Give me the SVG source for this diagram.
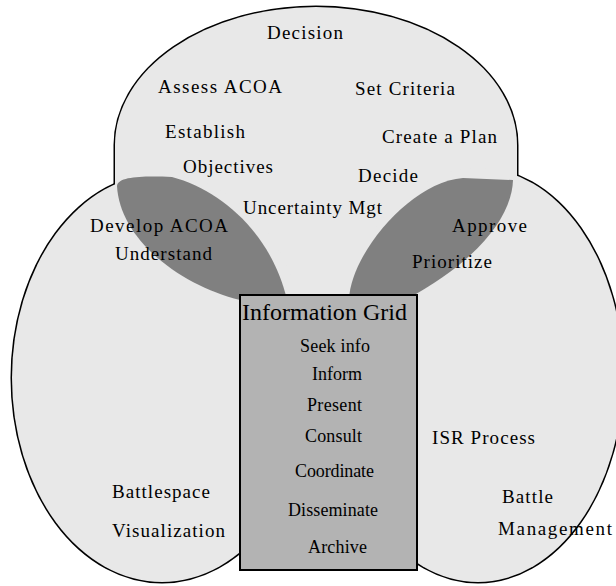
<svg xmlns="http://www.w3.org/2000/svg" width="616" height="586" viewBox="0 0 616 586">
  <style>
    .edge { fill: none; stroke: #000; stroke-width: 3; }
    .area { fill: #e8e8e8; stroke: none; }
    .lens { fill: #808080; stroke: none; }
    .grid { fill: #b3b3b3; stroke: #000; stroke-width: 2; }
    text { font-family: "Liberation Serif", "Times New Roman", serif; font-size: 19px; fill: #000; }
    .item { font-size: 18px; }
    .title { font-size: 24px; }
  </style>
  <defs>
    <path id="decisionShape" d="M115,185 L115,145 A201,138 0 0 1 517,145 L517,185 A201,120 0 0 1 115,185 Z"/>
    <ellipse id="bvShape" cx="162" cy="378" rx="150" ry="204"/>
    <ellipse id="bmShape" cx="478" cy="375" rx="145" ry="207"/>
  </defs>

  <rect width="616" height="586" fill="#fff"/>

  <!-- outer outline of the three overlapping areas: thick strokes first, fills on top hide the inner lines -->
  <g id="outlines">
    <use href="#decisionShape" class="edge"/>
    <use href="#bvShape" class="edge"/>
    <use href="#bmShape" class="edge"/>
  </g>

  <g id="decision">
    <use href="#decisionShape" class="area"/>
  </g>
  <g id="battlespace-visualization">
    <use href="#bvShape" class="area"/>
  </g>
  <g id="battle-management">
    <use href="#bmShape" class="area"/>
  </g>

  <!-- shaded overlaps -->
  <g id="overlap-left">
    <path class="lens" d="M117,186 C118,176 145,176 172,177 C222,190 272,235 287,300 L240,300 C180,285 120,240 117,186 Z"/>
  </g>
  <g id="overlap-right">
    <path class="lens" d="M463,178 L513,180 C512,215 480,260 405,300 L349,300 C350,255 410,182 463,178 Z"/>
  </g>

  <g id="information-grid">
    <rect class="grid" x="240" y="295" width="177" height="275"/>
  </g>

  <g id="labels">
    <text x="267" y="39" textLength="76">Decision</text>
    <text x="158" y="93" textLength="124">Assess ACOA</text>
    <text x="355" y="95" textLength="100">Set Criteria</text>
    <text x="165" y="138" textLength="80">Establish</text>
    <text x="382" y="143" textLength="115">Create a Plan</text>
    <text x="183" y="173" textLength="90">Objectives</text>
    <text x="358" y="182" textLength="60">Decide</text>
    <text x="243" y="214" textLength="139">Uncertainty Mgt</text>
    <text x="90" y="232" textLength="138">Develop ACOA</text>
    <text x="115" y="260" textLength="97">Understand</text>
    <text x="452" y="232" textLength="75">Approve</text>
    <text x="412" y="268" textLength="80">Prioritize</text>

    <text class="title" x="242" y="320" textLength="165">Information Grid</text>
    <text class="item" x="300" y="352" textLength="70">Seek info</text>
    <text class="item" x="312" y="380" textLength="50">Inform</text>
    <text class="item" x="307" y="411" textLength="55">Present</text>
    <text class="item" x="305" y="442" textLength="57">Consult</text>
    <text class="item" x="295" y="477" textLength="79">Coordinate</text>
    <text class="item" x="288" y="516" textLength="90">Disseminate</text>
    <text class="item" x="308" y="553" textLength="59">Archive</text>

    <text x="112" y="498" textLength="98">Battlespace</text>
    <text x="112" y="537" textLength="113">Visualization</text>
    <text x="432" y="444" textLength="103">ISR Process</text>
    <text x="502" y="503" textLength="51">Battle</text>
    <text x="498" y="535" textLength="114">Management</text>
  </g>
</svg>
